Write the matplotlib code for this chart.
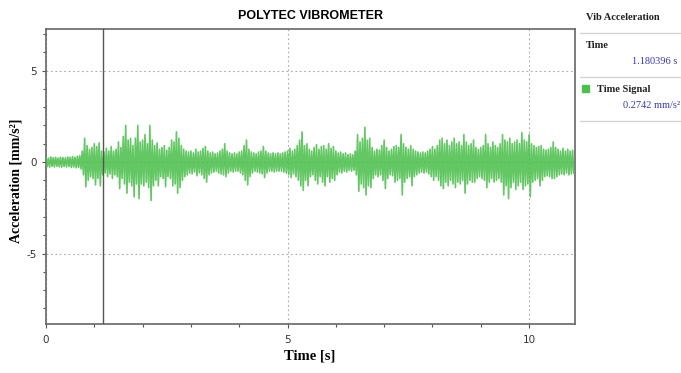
import numpy as np
import matplotlib
matplotlib.use("Agg")
import matplotlib.pyplot as plt
from matplotlib.ticker import MultipleLocator

plt.rcParams["axes.unicode_minus"] = False

# ---- data (envelope peaks, one pair every 0.05 s) ----
dt = 0.05
upper = [0.25,0.22,0.28,0.24,0.26,0.22,0.27,0.25,0.23,0.28,0.26,0.3,0.27,0.32,0.35,
         0.6,1.3,0.9,0.7,0.8,1.0,0.85,1.05,0.6,0.55,0.75,0.6,0.85,0.6,0.7,
         1.1,0.8,1.4,2.0,1.2,1.3,0.9,1.3,2.0,1.1,1.2,1.5,1.0,2.0,1.2,0.9,1.05,0.7,0.8,0.9,
         0.65,0.8,1.2,1.1,1.65,1.3,0.9,0.7,0.6,0.55,0.6,0.5,0.7,0.55,0.6,0.75,0.85,0.6,0.5,0.55,
         0.45,0.5,0.6,0.7,1.0,0.6,0.5,0.45,0.5,0.45,0.55,0.6,0.9,1.2,0.7,0.55,0.5,0.45,0.55,0.6,
         0.85,0.6,0.5,0.45,0.5,0.45,0.5,0.45,0.5,0.55,0.6,0.75,0.6,0.7,0.9,1.2,1.65,0.9,1.0,0.7,
         0.6,0.8,0.95,0.7,0.85,0.9,0.7,1.0,0.75,0.85,0.6,0.5,0.55,0.45,0.5,0.4,0.45,0.4,0.6,1.5,
         1.1,1.3,1.9,1.2,1.3,0.8,0.6,0.7,0.65,0.9,1.2,0.8,0.6,0.7,0.85,0.9,0.8,1.5,1.0,0.8,
         0.7,0.9,0.7,0.6,0.55,0.5,0.55,0.5,0.6,0.7,0.85,0.7,0.9,1.2,1.3,1.0,1.2,0.9,1.1,1.3,
         1.0,1.1,0.9,1.5,1.1,0.9,1.0,1.2,0.8,0.7,0.8,0.9,1.5,1.0,0.8,1.1,0.9,0.8,1.0,1.5,
         1.2,1.1,1.3,1.0,1.1,1.2,1.0,1.6,1.2,1.1,1.5,1.0,0.9,0.8,0.85,0.9,0.7,0.65,0.7,0.8,
         1.1,0.8,0.7,0.6,0.75,0.6,0.7,0.6,0.65]
lower = [0.25,0.28,0.24,0.27,0.23,0.26,0.28,0.24,0.27,0.25,0.3,0.27,0.32,0.3,0.38,
         0.7,1.35,1.0,0.8,0.9,1.25,0.9,1.3,0.7,0.6,0.8,0.65,0.9,0.7,0.8,
         1.45,0.9,1.2,1.7,1.1,1.3,1.9,1.2,2.0,1.2,1.3,1.1,1.4,2.1,1.3,1.0,1.3,0.8,0.9,1.35,
         0.8,0.9,1.3,1.2,1.7,1.4,1.0,0.8,0.7,0.6,0.65,0.55,0.75,0.6,0.7,0.9,1.1,0.7,0.6,0.55,
         0.5,0.6,0.65,0.7,0.8,0.6,0.5,0.55,0.5,0.5,0.6,0.7,1.0,1.25,0.8,0.6,0.5,0.55,0.6,0.65,
         0.85,0.6,0.5,0.5,0.55,0.5,0.5,0.5,0.55,0.6,0.7,0.85,0.65,0.8,1.0,1.3,1.55,1.0,1.3,0.8,
         0.7,1.0,1.2,0.8,1.1,1.3,0.8,1.1,0.9,1.0,0.7,0.55,0.6,0.5,0.55,0.45,0.5,0.45,0.7,1.6,
         1.2,1.4,1.8,1.3,1.4,0.9,0.7,0.8,0.7,1.0,1.45,0.9,0.7,0.75,1.1,1.0,0.9,1.8,1.1,0.9,
         0.8,1.3,0.8,0.7,0.6,0.55,0.6,0.55,0.65,0.8,1.0,0.8,1.0,1.3,1.45,1.1,1.3,1.0,1.2,1.4,
         1.1,1.2,1.0,1.7,1.2,1.0,1.1,1.1,0.9,0.8,0.9,1.0,1.4,1.1,0.9,1.1,1.0,0.9,1.1,1.8,
         1.3,2.0,1.4,1.1,1.5,1.3,1.1,1.5,1.3,1.2,1.9,1.1,1.0,0.9,1.3,1.0,0.8,0.75,0.8,0.9,
         0.9,0.8,0.7,0.65,0.7,0.6,0.7,0.65,0.6]
cursor_time = 1.180396
cursor_value = 0.2742

x_major = [0, 5, 10]
y_major = [-5, 0, 5]

# ---- build interleaved peak sequence ----
n = min(len(upper), len(lower))
t_sig = []
y_sig = []
for i in range(n):
    t_sig.append(i * dt)
    y_sig.append(upper[i])
    t_sig.append(i * dt + dt / 2)
    y_sig.append(-lower[i])

fig = plt.figure(figsize=(6.81, 3.73), dpi=100)
ax = fig.add_axes([46/681, 49/373, 529/681, 295/373])

ax.plot(t_sig, y_sig, color="#48bd48", lw=1.2, alpha=0.85, zorder=3,
        solid_joinstyle="round")

ax.set_xlim(0, 10.95)
ax.set_ylim(-8.85, 7.27)
ax.set_xticks(x_major)
ax.set_yticks(y_major)
ax.xaxis.set_minor_locator(MultipleLocator(1))
ax.yaxis.set_minor_locator(MultipleLocator(1))
ax.tick_params(which="both", direction="out", color="#555555", labelsize=7.5,
               labelcolor="#333333")
ax.tick_params(which="major", length=3, width=0.8)
ax.tick_params(which="minor", length=2, width=0.8)
ax.tick_params(axis="x", pad=5)
ax.grid(True, which="major", linestyle=(0, (1.5, 2.5)), color="#aaaaaa", lw=0.8)
for s in ax.spines.values():
    s.set_color("#666666")
    s.set_linewidth(1.2)

ax.axvline(cursor_time, color="#555555", lw=1.0, zorder=4)

ax.set_title("POLYTEC VIBROMETER", fontsize=9, fontweight="bold",
             family=["Liberation Sans Narrow", "Liberation Sans", "DejaVu Sans"], pad=7)
ax.set_xlabel("Time [s]", fontsize=10.5, fontweight="bold", family="Liberation Serif")
ax.set_ylabel("Acceleration [mm/s²]", fontsize=10, fontweight="bold",
              family="Liberation Serif")
ax.xaxis.set_label_coords((310 - 46) / 529, (324 - 356) / 295)
ax.yaxis.set_label_coords((16 - 46) / 529, (324 - 181) / 295)
ax.xaxis.label.set_va("center")
ax.yaxis.label.set_va("center")

# ---- right info panel ----
serif = "Liberation Serif"
fig.text(586/681, 1 - 18/373, "Vib Acceleration", fontsize=7.5, family=serif,
         fontweight="bold", va="center", ha="left", color="#222222")
for yy in (33, 77, 121):
    fig.add_artist(plt.Line2D([580/681, 1.0], [1 - yy/373, 1 - yy/373],
                              color="#d5d5d5", lw=1.0))
fig.text(586/681, 1 - 45/373, "Time", fontsize=7.5, family=serif, fontweight="bold",
         va="center", ha="left", color="#222222")
fig.text(677/681, 1 - 62/373, f"{cursor_time:.6f} s", fontsize=7.5, family=serif,
         va="center", ha="right", color="#3838b0")
fig.add_artist(plt.Rectangle((582/681, 1 - 92/373), 7/681, 7/373,
                             color="#4cbf4c", transform=fig.transFigure))
fig.text(597/681, 1 - 89/373, "Time Signal", fontsize=7.5, family=serif,
         fontweight="bold", va="center", ha="left", color="#222222")
fig.text(680/681, 1 - 105/373, f"{cursor_value:.4f} mm/s²", fontsize=7.5, family=serif,
         va="center", ha="right", color="#3838b0")

fig.savefig("out.png", dpi=100)
